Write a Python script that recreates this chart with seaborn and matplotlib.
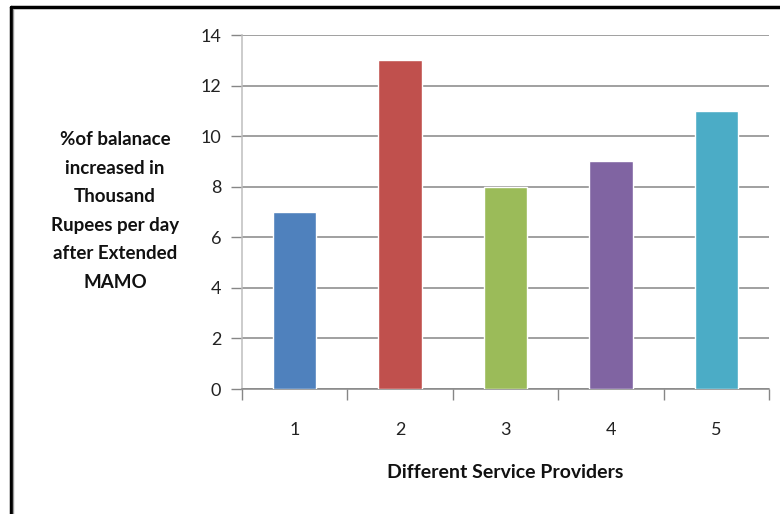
import matplotlib
matplotlib.use("Agg")
import matplotlib.pyplot as plt
import seaborn as sns
import pandas as pd
from matplotlib.lines import Line2D
from matplotlib.ticker import FixedLocator

providers = ["1", "2", "3", "4", "5"]
values = [7, 13, 8, 9, 11]
colors = ["#4F81BD", "#C0504D", "#9BBB59", "#8064A2", "#4BACC6"]
y_ticks = [0, 2, 4, 6, 8, 10, 12, 14]
y_label = "%of balanace\nincreased in\nThousand\nRupees per day\nafter Extended\nMAMO"
x_label = "Different Service Providers"

sns.set_style("white")
plt.rcParams['font.family'] = ['Lato', 'DejaVu Sans']

df = pd.DataFrame({"provider": providers, "value": values})

fig = plt.figure(figsize=(7.8, 5.14), dpi=100)
ax = fig.add_axes([242/780, 1-389/514, 527/780, 354/514])

sns.barplot(data=df, x="provider", y="value", hue="provider", palette=colors,
            order=providers, hue_order=providers, width=0.41, legend=False,
            ax=ax, saturation=1, zorder=3)

ax.set_xlim(-0.5, 4.5)
ax.set_ylim(0, 14)
ax.set_yticks(y_ticks)
ax.yaxis.grid(True, color="#868686", linewidth=1.1, zorder=0)
ax.set_axisbelow(True)

for s in ["top", "right"]:
    ax.spines[s].set_visible(False)
ax.spines["left"].set_color("#BFBFBF")
ax.spines["left"].set_linewidth(1.1)
ax.spines["bottom"].set_color("#868686")
ax.spines["bottom"].set_linewidth(1.1)

ax.tick_params(axis="y", which="major", direction="out", length=8, width=1,
               color="#868686", labelsize=13, labelcolor="#222222", pad=7, left=True)
ax.tick_params(axis="x", which="major", length=0, labelsize=13,
               labelcolor="#222222", pad=24)
ax.xaxis.set_minor_locator(FixedLocator([-0.5, 0.5, 1.5, 2.5, 3.5, 4.5]))
ax.tick_params(axis="x", which="minor", direction="out", length=8, width=1,
               color="#868686", bottom=True)

ax.set_xlabel(x_label, fontsize=14, fontweight="bold", color="#111111", va="center")
ax.xaxis.set_label_coords(0.5, -(473-389)/354)
ax.set_ylabel(y_label, fontsize=13.5, fontweight="bold", rotation=0,
              ha="center", va="center", linespacing=1.82, color="#111111")
ax.yaxis.set_label_coords((115-242)/527, (389-211)/354)

# outer frame lines
fig.add_artist(Line2D([11/780, 1], [1-7/514, 1-7/514], color="black", linewidth=2.5,
                      transform=fig.transFigure))
fig.add_artist(Line2D([11/780, 11/780], [0, 1-7/514], color="black", linewidth=2.5,
                      transform=fig.transFigure))
fig.add_artist(Line2D([13/780, 13/780], [0, 1-9/514], color="#999999", linewidth=1,
                      transform=fig.transFigure))

fig.savefig("out.png", dpi=100)
